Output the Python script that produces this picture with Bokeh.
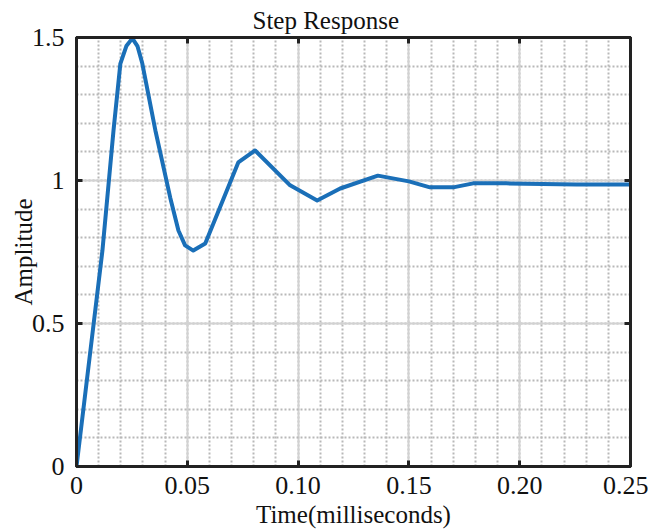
from bokeh.plotting import figure
from bokeh.models import (Range1d, FixedTicker, LinearAxis, CustomJSTickFormatter)
from bokeh.embed import file_html
from bokeh.resources import INLINE

# ---- data ----
time_ms = [0.0, 0.0117, 0.0167, 0.0198, 0.0225, 0.0252, 0.0275, 0.0297, 0.0356,
           0.0423, 0.046, 0.049, 0.0527, 0.0581, 0.073, 0.0806, 0.0964, 0.1086,
           0.119, 0.136, 0.150, 0.1595, 0.170, 0.179, 0.194, 0.2257, 0.25]
amplitude = [0.0, 0.755, 1.175, 1.409, 1.47, 1.497, 1.47, 1.409, 1.175,
             0.94, 0.825, 0.773, 0.755, 0.78, 1.063, 1.105, 0.983, 0.930,
             0.972, 1.017, 0.997, 0.976, 0.976, 0.99, 0.99, 0.986, 0.986]

x_ticks = [0.0, 0.05, 0.10, 0.15, 0.20, 0.25]
x_tick_labels = ["0", "0.05", "0.10", "0.15", "0.20", "0.25"]
x_minor = [round(i * 0.01, 2) for i in range(0, 26)]
y_ticks = [0.0, 0.5, 1.0, 1.5]
y_tick_labels = ["0", "0.5", "1", "1.5"]
y_minor = [round(i * 0.1, 1) for i in range(0, 16)]

title_text = "Step Response"
x_label = "Time(milliseconds)"
y_label = "Amplitude"

FONT = "Liberation Serif"

p = figure(width=648, height=531, output_backend="svg", toolbar_location=None,
           x_range=Range1d(0, 0.25), y_range=Range1d(0, 1.5),
           min_border_left=76, min_border_right=18, min_border_top=37,
           min_border_bottom=65, title=title_text)

p.title.text_font = FONT
p.title.text_font_size = "25px"
p.title.text_font_style = "normal"
p.title.align = "left"
p.title.offset = 176
p.title.standoff = 0
p.title.text_color = "#111111"

fmt_code = """
const i = tvals.findIndex(t => Math.abs(t - tick) < 1e-9);
return i >= 0 ? tlabels[i] : '';
"""

xt = FixedTicker(ticks=x_ticks, minor_ticks=x_minor)
yt = FixedTicker(ticks=y_ticks, minor_ticks=y_minor)

p.xaxis.ticker = xt
p.yaxis.ticker = yt
p.xaxis.formatter = CustomJSTickFormatter(args=dict(tvals=x_ticks, tlabels=x_tick_labels), code=fmt_code)
p.yaxis.formatter = CustomJSTickFormatter(args=dict(tvals=y_ticks, tlabels=y_tick_labels), code=fmt_code)

for ax in (p.xaxis[0], p.yaxis[0]):
    ax.major_label_text_font = FONT
    ax.major_label_text_font_size = "26px"
    ax.major_label_text_color = "#111111"
    ax.axis_label_text_font = FONT
    ax.axis_label_text_font_size = "25px"
    ax.axis_label_text_font_style = "normal"
    ax.axis_label_text_color = "#111111"
    ax.major_tick_in = 6
    ax.major_tick_out = 0
    ax.major_tick_line_width = 3
    ax.major_tick_line_color = "#222222"
    ax.minor_tick_line_color = None
    ax.axis_line_color = "#222222"
    ax.axis_line_width = 3

p.xaxis.axis_label = x_label
p.yaxis.axis_label = y_label
p.xaxis.major_label_standoff = 6
p.xaxis.axis_label_standoff = 4
p.yaxis.major_label_standoff = 8
p.yaxis.axis_label_standoff = -8

# top / right axes: ticks only, empty labels
blank = CustomJSTickFormatter(code="return '';")
top = LinearAxis(ticker=xt, formatter=blank, major_label_standoff=0,
                 major_tick_in=6, major_tick_out=0, major_tick_line_width=3,
                 major_tick_line_color="#222222", minor_tick_line_color=None,
                 axis_line_color="#222222", axis_line_width=3)
right = LinearAxis(ticker=yt, formatter=blank, major_label_standoff=0,
                   major_tick_in=6, major_tick_out=0, major_tick_line_width=3,
                   major_tick_line_color="#222222", minor_tick_line_color=None,
                   axis_line_color="#222222", axis_line_width=3)
p.add_layout(top, "above")
p.add_layout(right, "right")

p.outline_line_color = "#222222"
p.outline_line_width = 3

p.xgrid.grid_line_color = "#d2d2d2"
p.xgrid.grid_line_width = 2
p.ygrid.grid_line_color = "#d2d2d2"
p.ygrid.grid_line_width = 2
p.xgrid.minor_grid_line_color = "#b8b8b8"
p.xgrid.minor_grid_line_width = 2
p.xgrid.minor_grid_line_dash = "2 2"
p.ygrid.minor_grid_line_color = "#b8b8b8"
p.ygrid.minor_grid_line_width = 2
p.ygrid.minor_grid_line_dash = "2 2"

p.line(time_ms, amplitude, line_color="#1a6fb8", line_width=4, line_join="round")

open("out.html", "w").write(file_html(p, INLINE))
